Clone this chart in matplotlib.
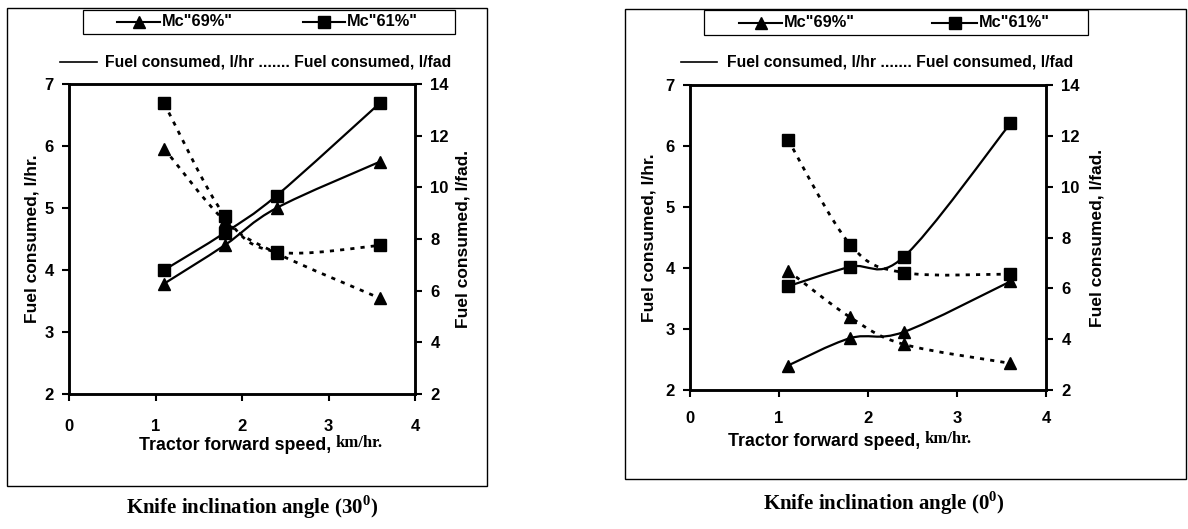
import matplotlib
matplotlib.use("Agg")
import matplotlib.pyplot as plt
from matplotlib.lines import Line2D
from matplotlib.patches import PathPatch, Rectangle
from matplotlib.path import Path

# speeds, km/hr
speed = [1.1, 1.8, 2.4, 3.6]

# knife inclination 30 deg
hr30_mc69 = [3.78, 4.4, 5.0, 5.75]
hr30_mc61 = [4.0, 4.6, 5.2, 6.7]
fad30_mc69 = [11.5, 8.7, 7.45, 5.7]
fad30_mc61 = [13.25, 8.9, 7.5, 7.75]

# knife inclination 0 deg
hr0_mc69 = [2.4, 2.85, 2.95, 3.78]
hr0_mc61 = [3.7, 4.02, 4.18, 6.37]
fad0_mc69 = [6.7, 4.86, 3.8, 3.05]
fad0_mc61 = [11.85, 7.72, 6.62, 6.56]

series_names = ['Mc"69%"', 'Mc"61%"']
titles = ["Knife inclination angle (30$^{\\mathregular{0}}$)",
          "Knife inclination angle (0$^{\\mathregular{0}}$)"]

W, H = 1188, 529
SANS = "Liberation Sans"
SERIF = "Liberation Serif"
DOT = (0, (1.5, 2.2))


def smooth_path(x, y):
    # Excel-style smoothed line (Catmull-Rom as cubic Bezier segments)
    pts = list(zip(x, y))
    n = len(pts)
    verts = [pts[0]]
    codes = [Path.MOVETO]
    for i in range(n - 1):
        p0 = pts[i - 1] if i > 0 else pts[i]
        p1 = pts[i]
        p2 = pts[i + 1]
        p3 = pts[i + 2] if i + 2 < n else pts[i + 1]
        c1 = (p1[0] + (p2[0] - p0[0]) / 6, p1[1] + (p2[1] - p0[1]) / 6)
        c2 = (p2[0] - (p3[0] - p1[0]) / 6, p2[1] - (p3[1] - p1[1]) / 6)
        verts += [c1, c2, p2]
        codes += [Path.CURVE4] * 3
    return Path(verts, codes)


def draw_series(ax, y, marker, ls):
    ax.add_patch(PathPatch(smooth_path(speed, y), fill=False, edgecolor="black",
                           linewidth=1.6 if ls == "-" else 2.0, linestyle=ls))
    ax.plot(speed, y, ls="none", marker=marker, ms=8, color="black")


def fx(px):
    return px / W


def fy(py):
    return 1 - py / H


fig = plt.figure(figsize=(W / 100, H / 100), dpi=100)

panels = [
    dict(rect=[69, 84, 415, 394], frame=[7, 8, 487, 486], leg=[83, 10, 455, 34],
         leg_items=[(117, 160), (303, 345)], line2=[60, 97, 105, 62], ylab=(32, 463),
         xt_pad=13, xlab=(336, 445), title=(252, 507),
         hr=(hr30_mc69, hr30_mc61), fad=(fad30_mc69, fad30_mc61)),
    dict(rect=[690, 85, 1046, 390], frame=[625, 9, 1186, 479], leg=[704, 10, 1088, 35],
         leg_items=[(739, 782), (932, 977)], line2=[681, 717, 727, 62], ylab=(649, 1097),
         xt_pad=10, xlab=(925, 441), title=(884, 503),
         hr=(hr0_mc69, hr0_mc61), fad=(fad0_mc69, fad0_mc61)),
]

for k, p in enumerate(panels):
    x0, y0, x1, y1 = p["rect"]
    ax = fig.add_axes([fx(x0), fy(y1), fx(x1 - x0), (y1 - y0) / H])
    ax2 = ax.twinx()

    ax.set_xlim(0, 4)
    ax.set_ylim(2, 7)
    ax2.set_ylim(2, 14)
    ax.set_xticks([0, 1, 2, 3, 4])
    ax.set_yticks(range(2, 8))
    ax2.set_yticks(range(2, 15, 2))

    for a in (ax, ax2):
        for s in a.spines.values():
            s.set_linewidth(1.8)
        a.tick_params(direction="out", length=5, width=1.5, labelsize=12)
        for lab in a.get_xticklabels() + a.get_yticklabels():
            lab.set_fontfamily(SANS)
            lab.set_fontweight("bold")
    ax.tick_params(axis="x", pad=p["xt_pad"])
    ax.tick_params(axis="y", pad=6)
    ax2.tick_params(axis="y", pad=6)

    draw_series(ax, p["hr"][0], "^", "-")
    draw_series(ax, p["hr"][1], "s", "-")
    draw_series(ax2, p["fad"][0], "^", DOT)
    draw_series(ax2, p["fad"][1], "s", DOT)

    # y labels
    yc = (y0 + y1) / 2
    fig.text(fx(p["ylab"][0]), fy(yc), "Fuel consumed, l/hr.", rotation=90,
             ha="center", va="center", family=SANS, weight="bold", fontsize=12.5)
    fig.text(fx(p["ylab"][1]), fy(yc), "Fuel consumed, l/fad.", rotation=90,
             ha="center", va="center", family=SANS, weight="bold", fontsize=12.5)

    # x label (sans part + serif unit)
    sx, sy = p["xlab"]
    fig.text(fx(sx), fy(sy), "Tractor forward speed, ", ha="right", va="center",
             family=SANS, weight="bold", fontsize=12.8)
    fig.text(fx(sx), fy(sy - 2), "km/hr.", ha="left", va="center",
             family=SERIF, weight="bold", fontsize=12)

    # outer frame
    fl, ft, fr, fb = p["frame"]
    fig.add_artist(Rectangle((fx(fl), fy(fb)), fx(fr - fl), (fb - ft) / H,
                             transform=fig.transFigure, fill=False,
                             edgecolor="black", linewidth=1.0))

    # legend box with marker series
    ll, lt, lr, lb = p["leg"]
    fig.add_artist(Rectangle((fx(ll), fy(lb)), fx(lr - ll), (lb - lt) / H,
                             transform=fig.transFigure, fill=False,
                             edgecolor="black", linewidth=0.9))
    ly = (lt + lb) / 2
    for (h0, h1), mk, name in zip(p["leg_items"], ["^", "s"], series_names):
        fig.add_artist(Line2D([fx(h0), fx(h1)], [fy(ly), fy(ly)], color="black", lw=1.5,
                              transform=fig.transFigure))
        fig.add_artist(Line2D([fx((h0 + h1) / 2)], [fy(ly)], color="black", marker=mk,
                              ms=8, ls="none", transform=fig.transFigure))
        fig.text(fx(h1 + 2), fy(ly), name, ha="left", va="center", family=SANS,
                 weight="bold", fontsize=11.8)

    # second legend row: line style key
    ls0, ls1, tx, ty = p["line2"]
    fig.add_artist(Line2D([fx(ls0), fx(ls1)], [fy(ty), fy(ty)], color="black", lw=1.2,
                          transform=fig.transFigure))
    fig.text(fx(tx), fy(ty), "Fuel consumed, l/hr ....... Fuel consumed, l/fad",
             ha="left", va="center", family=SANS, weight="bold", fontsize=11.3)

    # caption below
    fig.text(fx(p["title"][0]), fy(p["title"][1]), titles[k], ha="center", va="center",
             family=SERIF, weight="bold", fontsize=15)

fig.savefig("out.png", dpi=100)
